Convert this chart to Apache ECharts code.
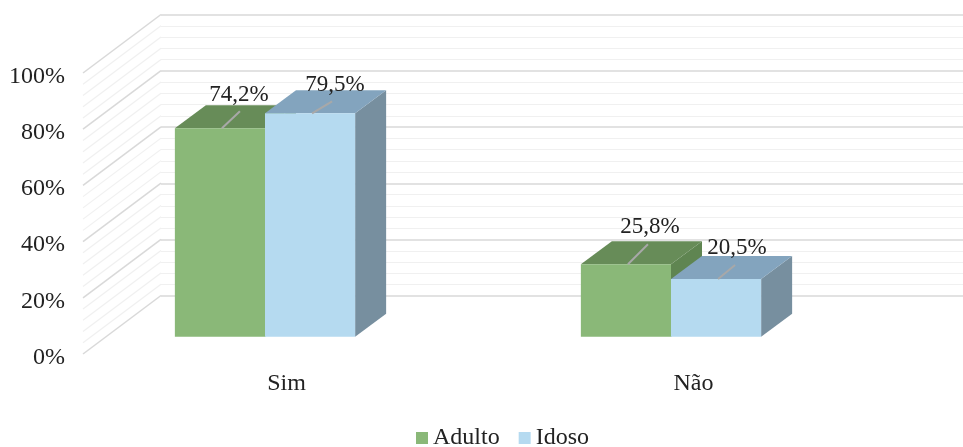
<!DOCTYPE html>
<html>
<head>
<meta charset="utf-8">
<style>
html, body { margin: 0; padding: 0; background: #fff; }
#mychart { width: 963px; height: 447px; }
</style>
<script src="https://cdn.jsdelivr.net/npm/echarts@6/dist/echarts.min.js"></script>
</head>
<body>
<div id="mychart"></div>
<script>
"use strict";
const categories = ['Sim', 'Não'];
const adulto = [74.2, 25.8];
const idoso = [79.5, 20.5];
const valueTicks = [0, 4, 8, 12, 16, 20, 24, 28, 32, 36, 40, 44, 48, 52, 56, 60, 64, 68, 72, 76, 80, 84, 88, 92, 96, 100];

const font = '"Liberation Serif", "Times New Roman", serif';
const textColor = '#222';
// floor depth of the side wall and of the bars, in px
const wallDepth = [78, -58.5];
const barDepth = [31, -23];
// where each data label sits relative to the top of its bar, [series][category]
const labelShift = [[[19, -33], [24, -37]], [[25, -28], [21, -31]]];
const leaderEnd = [[[20, -17], [22, -20]], [[22, -12], [19, -14]]];

const container = document.getElementById('mychart');
const myChart = echarts.init(container);

function renderWall(params, api) {
    const value = api.value(0);
    const y = api.coord([0, value])[1];
    const x = params.coordSys.x;
    const major = value % 20 === 0;
    return {
        type: 'line',
        shape: { x1: x, y1: y, x2: x + wallDepth[0], y2: y + wallDepth[1] },
        style: { stroke: major ? '#d9d9d9' : '#f0f0f0', lineWidth: major ? 1.5 : 1.2 }
    };
}

function makeBox(seriesIndex, colors) {
    return function (params, api) {
        const cat = api.value(0);
        const top = api.coord([cat, api.value(1)]);
        const base = api.coord([cat, 0]);
        const w = api.size([1, 0])[0] * 0.222;
        const x0 = top[0] + (seriesIndex === 0 ? -w : 0);
        const x1 = x0 + w;
        const y0 = top[1];
        const y1 = base[1];
        const dx = barDepth[0], dy = barDepth[1];
        const shift = labelShift[seriesIndex][cat];
        const end = leaderEnd[seriesIndex][cat];
        const mid = x0 + w / 2;
        return {
            type: 'group',
            children: [
                {
                    type: 'polygon',
                    shape: { points: [[x1, y0], [x1 + dx, y0 + dy], [x1 + dx, y1 + dy], [x1, y1]] },
                    style: { fill: colors.side }
                },
                {
                    type: 'polygon',
                    shape: { points: [[x0, y0], [x0 + dx, y0 + dy], [x1 + dx, y0 + dy], [x1, y0]] },
                    style: { fill: colors.top }
                },
                {
                    type: 'rect',
                    shape: { x: x0, y: y0, width: w, height: y1 - y0 },
                    style: { fill: colors.front }
                },
                {
                    type: 'line',
                    shape: { x1: mid + 2, y1: y0, x2: mid + end[0], y2: y0 + end[1] },
                    style: { stroke: '#a8a8a8', lineWidth: 2 }
                },
                {
                    type: 'text',
                    x: mid + shift[0],
                    y: y0 + shift[1],
                    style: {
                        text: api.value(1).toFixed(1).replace('.', ',') + '%',
                        font: '23px ' + font,
                        fill: textColor,
                        align: 'center',
                        verticalAlign: 'middle'
                    }
                }
            ]
        };
    };
}

const option = {
    animation: false,
    backgroundColor: '#fff',
    textStyle: { fontFamily: font },
    legend: {
        data: ['Adulto', 'Idoso'],
        icon: 'rect',
        left: 411,
        top: 421,
        itemWidth: 12,
        itemHeight: 12,
        itemGap: 19,
        textStyle: { fontFamily: font, fontSize: 24, color: textColor }
    },
    grid: [
        // back wall
        { left: 161, right: 0, top: 14.5, height: 281.5 },
        // front edge of the side wall, carries the category labels
        { left: 83, width: 814, top: 73, height: 281 },
        // plane of the bars' front faces
        { left: 62, width: 812, top: 55.7, height: 281 },
        // tick labels sit a little below the wall lines
        { left: 83, width: 814, top: 76.5, height: 281 }
    ],
    xAxis: [
        { gridIndex: 0, type: 'category', data: categories, show: false },
        {
            gridIndex: 1,
            type: 'category',
            data: categories,
            axisLine: { show: false },
            axisTick: { show: false },
            axisLabel: { margin: 18, fontFamily: font, fontSize: 24, color: textColor }
        },
        { gridIndex: 2, type: 'category', data: categories, show: false },
        { gridIndex: 3, type: 'category', data: categories, show: false }
    ],
    yAxis: [
        {
            gridIndex: 0,
            type: 'value',
            min: 0,
            max: 100,
            interval: 20,
            axisLine: { show: false },
            axisTick: { show: false },
            axisLabel: { show: false },
            minorTick: { show: false, splitNumber: 5 },
            splitLine: { show: true, lineStyle: { color: '#d9d9d9', width: 1.5 } },
            minorSplitLine: { show: true, lineStyle: { color: '#f0f0f0', width: 1.2 } }
        },
        { gridIndex: 1, type: 'value', min: 0, max: 100, show: false, splitLine: { show: false } },
        { gridIndex: 2, type: 'value', min: 0, max: 100, show: false, splitLine: { show: false } },
        {
            gridIndex: 3,
            type: 'value',
            min: 0,
            max: 100,
            interval: 20,
            axisLine: { show: false },
            axisTick: { show: false },
            splitLine: { show: false },
            axisLabel: {
                margin: 18,
                formatter: '{value}%',
                fontFamily: font,
                fontSize: 24,
                color: textColor
            }
        }
    ],
    series: [
        {
            type: 'custom',
            name: 'wall',
            xAxisIndex: 1,
            yAxisIndex: 1,
            silent: true,
            clip: false,
            z: 1,
            data: valueTicks.map((v) => [v]),
            encode: { y: 0 },
            renderItem: renderWall
        },
        {
            type: 'custom',
            name: 'Adulto',
            xAxisIndex: 2,
            yAxisIndex: 2,
            clip: false,
            z: 3,
            itemStyle: { color: '#8ab878' },
            data: categories.map((c, i) => [i, adulto[i]]),
            renderItem: makeBox(0, { front: '#8ab878', top: '#678c58', side: '#5f8551' })
        },
        {
            type: 'custom',
            name: 'Idoso',
            xAxisIndex: 2,
            yAxisIndex: 2,
            clip: false,
            z: 4,
            itemStyle: { color: '#b5daf0' },
            data: categories.map((c, i) => [i, idoso[i]]),
            renderItem: makeBox(1, { front: '#b5daf0', top: '#83a4be', side: '#778f9f' })
        }
    ]
};
myChart.setOption(option);
</script>
</body>
</html>
